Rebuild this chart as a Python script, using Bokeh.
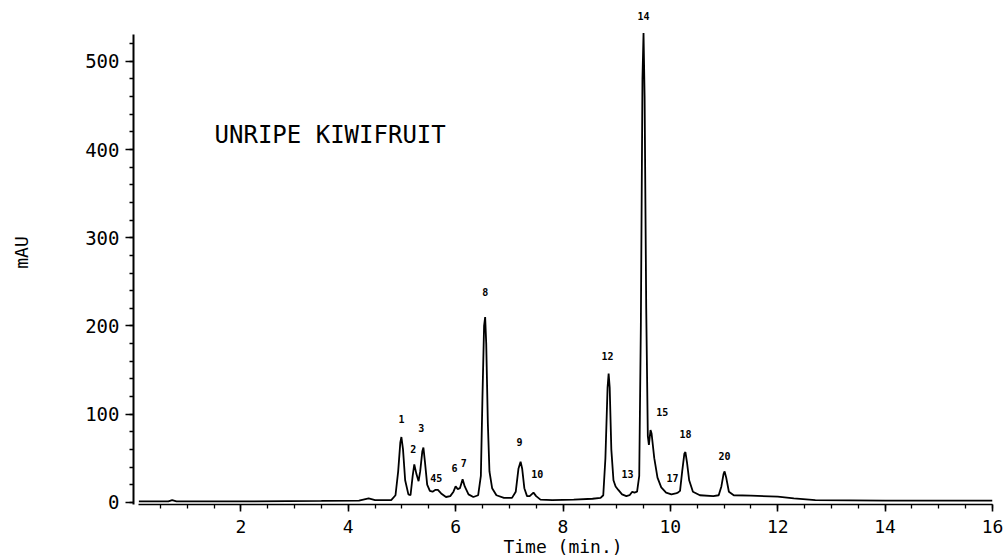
from bokeh.plotting import figure
from bokeh.models import SingleIntervalTicker, Range1d, Label, ColumnDataSource
from bokeh.core.properties import value
from bokeh.embed import file_html
from bokeh.resources import INLINE

# Chromatogram trace (time in min, absorbance in mAU)
time_min = [0.10, 0.65, 0.72, 0.80, 2.00, 3.50, 4.20, 4.38, 4.50, 4.80,
            4.88, 4.93, 4.97, 4.99, 5.02, 5.06, 5.12, 5.16, 5.20, 5.23,
            5.27, 5.31, 5.34, 5.38, 5.40, 5.43, 5.47, 5.52, 5.57, 5.62,
            5.67, 5.73, 5.82, 5.90, 5.96, 6.00, 6.04, 6.08, 6.13, 6.17,
            6.24, 6.33, 6.42, 6.47, 6.50, 6.53, 6.55, 6.57, 6.60, 6.63,
            6.68, 6.76, 6.90, 7.05, 7.12, 7.17, 7.21, 7.24, 7.28, 7.33,
            7.38, 7.45, 7.50, 7.58, 7.80, 8.20, 8.55, 8.70, 8.75, 8.79,
            8.83, 8.85, 8.87, 8.90, 8.94, 8.98, 9.03, 9.10, 9.18, 9.24,
            9.29, 9.33, 9.38, 9.42, 9.45, 9.48, 9.50, 9.52, 9.55, 9.58,
            9.60, 9.63, 9.65, 9.70, 9.76, 9.83, 9.92, 10.02, 10.10, 10.14,
            10.18, 10.22, 10.26, 10.28, 10.31, 10.35, 10.42, 10.55, 10.80, 10.90,
            10.95, 10.99, 11.01, 11.04, 11.09, 11.18, 11.50, 12.00, 12.30, 12.70,
            14.00, 16.00]
mau = [1.0, 1.0, 2.5, 1.0, 1.0, 1.5, 2.0, 4.5, 2.5, 2.5,
       8, 35, 68, 74, 60, 25, 9, 8, 30, 43,
       32, 24, 35, 58, 62, 45, 20, 13, 12, 14,
       14, 10, 6, 7, 12, 18, 15, 16, 26, 18,
       9, 6, 8, 30, 120, 200, 210, 180, 90, 35,
       16, 8, 5, 5, 12, 38, 46, 38, 16, 7,
       7, 11, 7, 3, 2.5, 3, 4, 5, 8, 50,
       130, 146, 130, 60, 25, 18, 14, 9, 7, 8,
       12, 11, 12, 30, 200, 480, 532, 460, 220, 75,
       65, 82, 78, 50, 28, 17, 11, 9, 10, 11,
       13, 35, 55, 57, 45, 25, 12, 8, 7, 8,
       18, 32, 35, 28, 12, 8, 7.5, 6.5, 4.5, 2.5,
       2, 1.8]

# Peak number labels
peak_labels = ["1", "2", "3", "45", "6", "7", "8", "9", "10", "12",
               "13", "14", "15", "17", "18", "20"]
peak_label_time = [4.99, 5.21, 5.36, 5.64, 5.98, 6.15, 6.55, 7.19, 7.52, 8.83,
                   9.20, 9.50, 9.85, 10.04, 10.28, 11.01]
peak_label_mau = [95, 61, 84, 28, 39, 44, 238, 68, 32, 166,
                  32, 551, 102, 27, 77, 52]

title_text = "UNRIPE KIWIFRUIT"
x_label = "Time (min.)"
y_label = "mAU"

FONT = "DejaVu Sans Mono"

p = figure(width=1003, height=560, output_backend="svg", toolbar_location=None,
           x_range=Range1d(0, 16.0), y_range=Range1d(-2.5, 569),
           min_border_left=133, min_border_right=11, min_border_top=0,
           min_border_bottom=56)
p.outline_line_color = None
p.xgrid.visible = False
p.ygrid.visible = False
p.background_fill_color = "white"
p.border_fill_color = "white"

p.line(time_min, mau, line_color="black", line_width=1.8)

src = ColumnDataSource(dict(x=peak_label_time, y=peak_label_mau, t=peak_labels))
p.text(x="x", y="y", text="t", source=src, text_font=value(FONT),
       text_font_size="10px", text_font_style="bold", text_align="center",
       text_baseline="middle", text_color="black")

p.add_layout(Label(x=1.51, y=417, text=title_text, text_font=FONT,
                   text_font_size="24px", text_align="left",
                   text_baseline="middle", text_color="black"))

xa = p.xaxis[0]
xa.ticker = SingleIntervalTicker(interval=2, num_minor_ticks=4)
xa.bounds = (0.1, 16.0)
xa.axis_line_width = 1.6
xa.axis_line_color = "black"
xa.major_tick_in = 0
xa.major_tick_out = 7
xa.minor_tick_in = 0
xa.minor_tick_out = 4
xa.major_tick_line_width = 1.6
xa.minor_tick_line_width = 1.3
xa.major_tick_line_color = "black"
xa.minor_tick_line_color = "black"
xa.major_label_text_font = FONT
xa.major_label_text_font_size = "18px"
xa.major_label_text_color = "black"
xa.major_label_standoff = 8
xa.axis_label = x_label
xa.axis_label_text_font = FONT
xa.axis_label_text_font_size = "18px"
xa.axis_label_text_font_style = "normal"
xa.axis_label_text_color = "black"
xa.axis_label_standoff = 0

ya = p.yaxis[0]
ya.ticker = SingleIntervalTicker(interval=100, num_minor_ticks=5)
ya.bounds = (-2.5, 530)
ya.axis_line_width = 2
ya.axis_line_color = "black"
ya.major_tick_in = 0
ya.major_tick_out = 8
ya.minor_tick_in = 0
ya.minor_tick_out = 4
ya.major_tick_line_width = 1.6
ya.minor_tick_line_width = 1.3
ya.major_tick_line_color = "black"
ya.minor_tick_line_color = "black"
ya.major_label_text_font = FONT
ya.major_label_text_font_size = "19px"
ya.major_label_text_color = "black"
ya.major_label_standoff = 6
ya.axis_label = y_label
ya.axis_label_text_font = FONT
ya.axis_label_text_font_size = "18px"
ya.axis_label_text_font_style = "normal"
ya.axis_label_text_color = "black"
ya.axis_label_standoff = 50

open("out.html", "w").write(file_html(p, INLINE))
